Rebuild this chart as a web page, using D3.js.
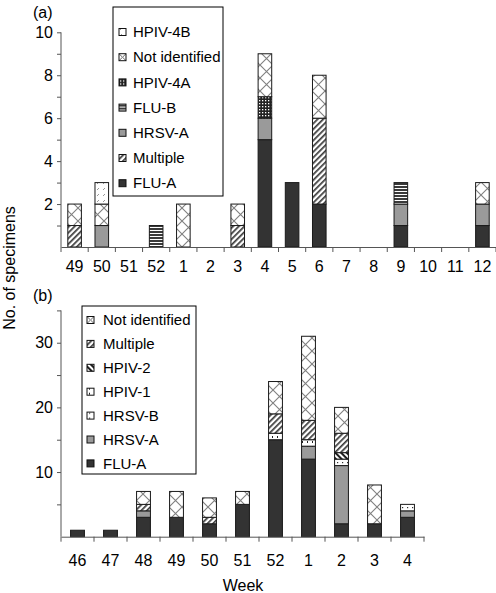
<!DOCTYPE html>
<html><head><meta charset="utf-8">
<script src="https://cdn.jsdelivr.net/npm/d3@7"></script>
<style>
html,body{margin:0;padding:0;background:#fff;}
svg{display:block;font-family:"Liberation Sans",Arial,sans-serif;}
</style></head>
<body>
<svg id="chart" width="496" height="593"></svg>
<script>
// ---- Panel (a) data ----
const weeksA = ["49","50","51","52","1","2","3","4","5","6","7","8","9","10","11","12"];
const seriesA = ["FLU-A","Multiple","HRSV-A","FLU-B","HPIV-4A","Not identified","HPIV-4B"];
const fluA_a    = [0,0,0,0,0,0,0,5,3,2,0,0,1,0,0,1];
const multiple_a= [1,0,0,0,0,0,1,0,0,4,0,0,0,0,0,0];
const hrsvA_a   = [0,1,0,0,0,0,0,1,0,0,0,0,1,0,0,1];
const fluB_a    = [0,0,0,1,0,0,0,0,0,0,0,0,1,0,0,0];
const hpiv4A_a  = [0,0,0,0,0,0,0,1,0,0,0,0,0,0,0,0];
const notId_a   = [1,1,0,0,2,0,1,2,0,2,0,0,0,0,0,1];
const hpiv4B_a  = [0,1,0,0,0,0,0,0,0,0,0,0,0,0,0,0];
const legendA = ["HPIV-4B","Not identified","HPIV-4A","FLU-B","HRSV-A","Multiple","FLU-A"];
const yTicksA = [1,2,3,4,5,6,7,8,9,10];

// ---- Panel (b) data ----
const weeksB = ["46","47","48","49","50","51","52","1","2","3","4"];
const seriesB = ["FLU-A","HRSV-A","HRSV-B","HPIV-1","HPIV-2","Multiple","Not identified"];
const fluA_b    = [1,1,3,3,2,5,15,12,2,2,3];
const hrsvA_b   = [0,0,1,0,0,0,0,2,9,0,1];
const hrsvB_b   = [0,0,0,0,0,0,0,0,1,0,1];
const hpiv1_b   = [0,0,0,0,0,0,1,1,0,0,0];
const hpiv2_b   = [0,0,0,0,0,0,0,0,1,0,0];
const multiple_b= [0,0,1,0,1,0,3,3,3,0,0];
const notId_b   = [0,0,2,4,3,2,5,13,4,6,0];
const legendB = ["Not identified","Multiple","HPIV-2","HPIV-1","HRSV-B","HRSV-A","FLU-A"];
const yTicksB = [5,10,15,20,25,30,35];

const svg = d3.select("#chart");
const defs = svg.append("defs");

// patterns
function pat(id, w, h, draw, transform){
  const p = defs.append("pattern").attr("id", id).attr("patternUnits","userSpaceOnUse")
    .attr("width", w).attr("height", h);
  if (transform) p.attr("patternTransform", transform);
  draw(p);
}
pat("p-notid", 13, 13, p => {
  p.append("rect").attr("width",13).attr("height",13).attr("fill","#fff");
  p.append("path").attr("d","M0,0L13,13M13,0L0,13").attr("stroke","#808080").attr("stroke-width",1.1);
});
pat("p-mult", 4, 4, p => {
  p.append("rect").attr("width",4).attr("height",4).attr("fill","#fff");
  p.append("rect").attr("width",1.7).attr("height",4).attr("fill","#3a3a3a");
}, "rotate(45)");
pat("p-hpiv2", 4, 4, p => {
  p.append("rect").attr("width",4).attr("height",4).attr("fill","#fff");
  p.append("rect").attr("width",2).attr("height",4).attr("fill","#202020");
}, "rotate(-45)");
pat("p-hpiv4b", 6, 6, p => {
  p.append("rect").attr("width",6).attr("height",6).attr("fill","#fff");
  p.append("path").attr("d","M1,4L3,2").attr("stroke","#999").attr("stroke-width",1);
});
pat("p-hpiv4a", 3, 3, p => {
  p.append("rect").attr("width",3).attr("height",3).attr("fill","#222");
  p.append("rect").attr("x",1).attr("y",1).attr("width",1.3).attr("height",1.3).attr("fill","#fff");
});
pat("p-flub", 4, 3, p => {
  p.append("rect").attr("width",4).attr("height",3).attr("fill","#3a3a3a");
  p.append("rect").attr("y",2).attr("width",4).attr("height",1.1).attr("fill","#fff");
});
pat("p-hpiv1", 5, 5, p => {
  p.append("rect").attr("width",5).attr("height",5).attr("fill","#fff");
  p.append("rect").attr("x",2).attr("y",1).attr("width",1).attr("height",2).attr("fill","#222");
});
pat("p-hrsvb", 5, 5, p => {
  p.append("rect").attr("width",5).attr("height",5).attr("fill","#fff");
  p.append("rect").attr("x",2).attr("y",2).attr("width",1.2).attr("height",1.2).attr("fill","#333");
});
// small swatch version of "Not identified" for legends (X inside the box)
defs.append("pattern").attr("id","p-notid-s").attr("patternUnits","objectBoundingBox")
  .attr("width",1).attr("height",1)
  .call(p => {
    p.append("rect").attr("width",7).attr("height",7).attr("fill","#fff");
    p.append("path").attr("d","M0,0L7,7M7,0L0,7").attr("stroke","#666").attr("stroke-width",1);
  });

const fills = {
  "FLU-A":"#333333",
  "HRSV-A":"#9a9a9a",
  "Multiple":"url(#p-mult)",
  "FLU-B":"url(#p-flub)",
  "HPIV-4A":"url(#p-hpiv4a)",
  "Not identified":"url(#p-notid)",
  "HPIV-4B":"url(#p-hpiv4b)",
  "HPIV-2":"url(#p-hpiv2)",
  "HPIV-1":"url(#p-hpiv1)",
  "HRSV-B":"url(#p-hrsvb)"
};
const legendFill = k => k === "Not identified" ? "url(#p-notid-s)" : fills[k];

const AXIS = "#555";

function panel(cfg){
  const rows = cfg.weeks.map((w,i) => {
    const r = {week:w};
    cfg.series.forEach((s,j) => r[s] = cfg.values[j][i]);
    return r;
  });
  const x = d3.scaleBand().domain(cfg.weeks).range(cfg.xr).padding(0);
  const y = d3.scaleLinear().domain(cfg.yd).range(cfg.yr);
  const stack = d3.stack().keys(cfg.series)(rows);
  const bw = x.bandwidth()*cfg.barFrac;
  const g = svg.append("g");
  stack.forEach(layer => {
    g.append("g").selectAll("rect").data(layer.filter(d => d[1]-d[0] > 0)).join("rect")
      .attr("x", d => x(d.data.week) + (x.bandwidth()-bw)/2)
      .attr("y", d => y(d[1]))
      .attr("width", bw)
      .attr("height", d => y(d[0]) - y(d[1]))
      .attr("fill", fills[layer.key])
      .attr("stroke", "#1a1a1a").attr("stroke-width", 1);
  });
  // y axis
  const ya = g.append("g").attr("transform", `translate(${cfg.xr[0]},0)`)
    .call(d3.axisLeft(y).tickValues(cfg.yTicks).tickFormat(cfg.yFmt).tickSize(4).tickPadding(4).tickSizeOuter(0));
  ya.select(".domain").attr("stroke", AXIS).attr("d", `M0,${cfg.yr[0]}V${cfg.yr[1]}`);
  ya.selectAll(".tick line").attr("stroke", AXIS);
  ya.selectAll("text").attr("font-size", 16).attr("fill","#000").attr("font-family","Liberation Sans, Arial, sans-serif");
  // x axis
  const xa = g.append("g").attr("transform", `translate(0,${cfg.yr[0]})`)
    .call(d3.axisBottom(x).tickSize(0).tickPadding(cfg.xPad).tickSizeOuter(0));
  xa.select(".domain").attr("stroke", AXIS);
  xa.selectAll("text").attr("font-size", 16).attr("fill","#000").attr("font-family","Liberation Sans, Arial, sans-serif");
  const bounds = d3.range(cfg.weeks.length+1).map(i => x.range()[0] + i*x.step());
  xa.selectAll("line.bnd").data(bounds).join("line").attr("class","bnd")
    .attr("x1", d=>d).attr("x2", d=>d).attr("y1",0).attr("y2",5).attr("stroke", AXIS);
  // panel letter
  svg.append("text").attr("x",33).attr("y",cfg.letterY).attr("font-size",16).text(cfg.letter);
  // legend
  const L = cfg.legend;
  svg.append("rect").attr("x",L.x).attr("y",L.y).attr("width",L.w).attr("height",L.h)
    .attr("fill","#fff").attr("stroke","#000").attr("stroke-width",1);
  const li = svg.append("g").selectAll("g").data(cfg.legendItems).join("g")
    .attr("transform",(d,i)=>`translate(${L.sx},${L.y0 + i*L.step})`);
  li.append("rect").attr("x",0).attr("y",-3.5).attr("width",7).attr("height",7)
    .attr("fill", d => legendFill(d)).attr("stroke","#111").attr("stroke-width",1);
  li.append("text").attr("x", L.tx - L.sx).attr("y",0).attr("dy","0.35em")
    .attr("font-size",15).attr("fill","#000").text(d=>d);
}

panel({
  weeks: weeksA, series: seriesA,
  values: [fluA_a, multiple_a, hrsvA_a, fluB_a, hpiv4A_a, notId_a, hpiv4B_a],
  xr: [61, 496], yd: [0,10], yr: [247, 32.3], barFrac: 0.5, xPad: 14,
  yTicks: yTicksA, yFmt: d => d % 2 === 0 ? d : "",
  letter: "(a)", letterY: 18,
  legend: {x:113, y:7, w:110, h:189, sx:119, tx:133, y0:32, step:25.2},
  legendItems: legendA
});
panel({
  weeks: weeksB, series: seriesB,
  values: [fluA_b, hrsvA_b, hrsvB_b, hpiv1_b, hpiv2_b, multiple_b, notId_b],
  xr: [61, 424], yd: [0,35], yr: [536.7, 310.4], barFrac: 0.42, xPad: 18,
  yTicks: yTicksB, yFmt: d => d % 10 === 0 ? d : "",
  letter: "(b)", letterY: 301,
  legend: {x:82, y:306, w:114, h:168, sx:87, tx:103, y0:320, step:23.9},
  legendItems: legendB
});

// axis titles
svg.append("text").attr("x",243).attr("y",591).attr("text-anchor","middle").attr("font-size",16).text("Week");
svg.append("text").attr("transform","translate(15,268) rotate(-90)").attr("text-anchor","middle")
  .attr("font-size",16).text("No. of specimens");
</script>
</body></html>
